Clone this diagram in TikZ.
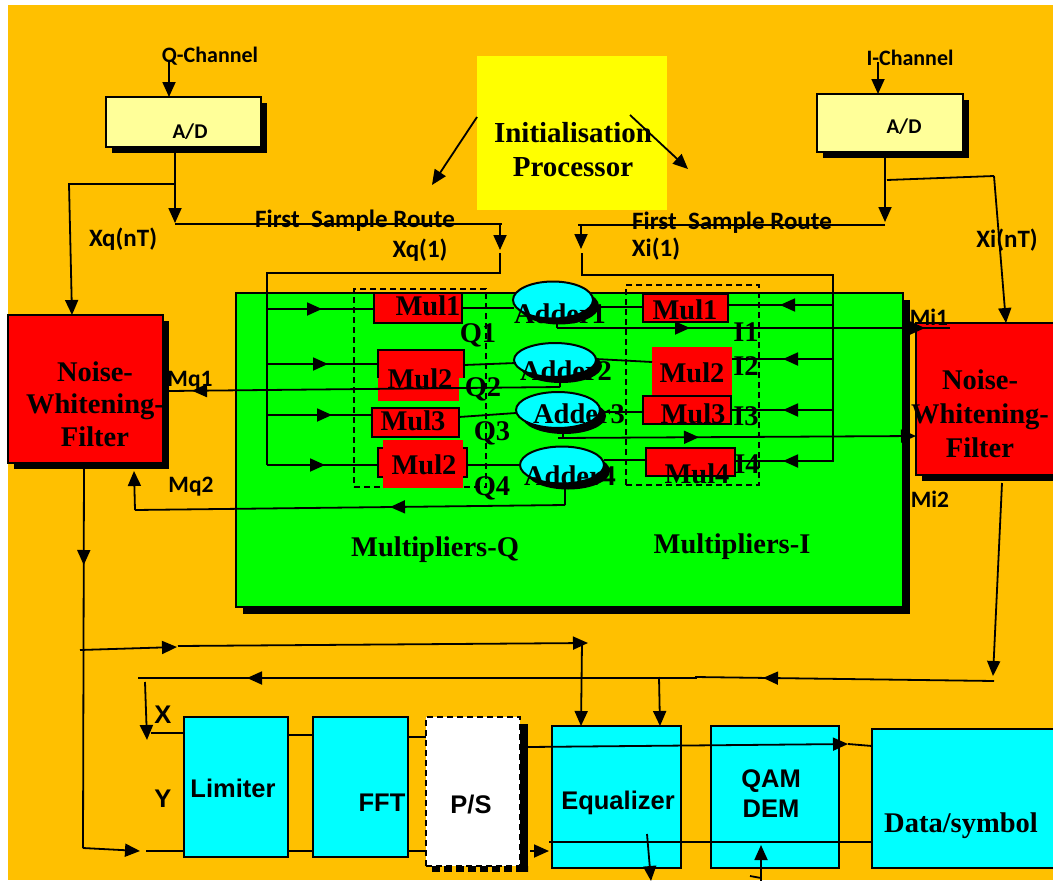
\documentclass[tikz,border=0pt]{standalone}
\usepackage{fontspec}
\setmainfont{Liberation Serif}
\newfontfamily\cbri{Carlito}
\newfontfamily\arl{Liberation Sans}
\usetikzlibrary{arrows.meta,shadows,shapes.geometric,decorations.markings}
\definecolor{bgorange}{HTML}{FFC000}
\definecolor{paleyel}{HTML}{FFFF99}
\definecolor{brightyel}{HTML}{FFFF00}
\definecolor{nwred}{HTML}{FF0000}
\definecolor{bgreen}{HTML}{00FF00}
\definecolor{acyan}{HTML}{00FFFF}
\begin{document}
\begin{tikzpicture}[x=1pt,y=-1pt,
  ln/.style={line width=1.8pt},
  arr/.style={ln,-{Triangle[length=15pt,width=13pt]}},
  midarr/.style={postaction={decorate,decoration={markings,
      mark=at position #1 with {\arrow{Triangle[length=15pt,width=13pt]}}}}},
  blk/.style={draw,line width=1.6pt,inner sep=0pt,outer sep=0pt,anchor=north west},
  plain/.style={inner sep=0pt,outer sep=0pt,anchor=north west},
  shad/.style={drop shadow={shadow xshift=#1,shadow yshift=-#1,opacity=1,fill=black}},
  sr/.style={font=\bfseries\fontsize{28.5}{33}\selectfont,inner sep=0pt,anchor=base},
  sb/.style={font=\cbri\bfseries\fontsize{#1}{#1}\selectfont,inner sep=0pt,anchor=base},
  ar/.style={font=\arl\bfseries\fontsize{25.5}{30}\selectfont,inner sep=0pt,anchor=base}]
\useasboundingbox (0,0) rectangle (1053,881);
\fill[white] (0,0) rectangle (1053,881);
\fill[bgorange] (8,5) rectangle (1053,880);

% ---------- top blocks ----------
\node[plain,fill=brightyel,minimum width=190pt,minimum height=154pt] (init) at (477,56) {};
\node[blk,fill=paleyel,shad=6pt,minimum width=155pt,minimum height=50pt] (qad) at (106,97) {};
\node[blk,fill=paleyel,shad=6pt,minimum width=146pt,minimum height=58pt] (iad) at (817,94) {};

% ---------- noise-whitening filters ----------
\node[blk,fill=nwred,shad=6pt,minimum width=155pt,minimum height=148pt] (nwfq) at (8,315) {};
\node[blk,fill=nwred,shad=6pt,minimum width=145pt,minimum height=152pt] (nwfi) at (916,323) {};

% ---------- multiplier board ----------
\node[blk,fill=bgreen,shad=7pt,minimum width=667pt,minimum height=314pt] (grn) at (236,293) {};
\node[plain,draw,line width=1.5pt,dash pattern=on 6pt off 4pt,minimum width=132pt,minimum height=198pt] (qdash) at (354,289) {};
\node[plain,draw,line width=1.5pt,dash pattern=on 6pt off 4pt,minimum width=133pt,minimum height=200pt] (idash) at (626,285) {};

% Q multipliers
\node[blk,fill=nwred,minimum width=88pt,minimum height=30pt] (mq1) at (374,293) {};
\node[plain,fill=nwred,minimum width=81pt,minimum height=51pt] (mq2) at (378,350) {};
\fill[nwred] (378,350) rectangle (464,378);
\draw[line width=1.5pt] (378,378) -- (378,350) -- (464,350) -- (464,378);
\node[blk,fill=nwred,minimum width=87pt,minimum height=29pt] (mq3) at (372,408) {};
\node[blk,fill=nwred,minimum width=89pt,minimum height=29pt] (mq4) at (378,448) {};
\node[plain,fill=nwred,minimum width=80pt,minimum height=48pt] (mq4b) at (383,440) {};

% I multipliers
\node[blk,fill=nwred,minimum width=85pt,minimum height=28pt] (mi1) at (643,294) {};
\node[plain,fill=nwred,minimum width=80pt,minimum height=48pt] (mi2) at (652,347) {};
\node[blk,fill=nwred,minimum width=88pt,minimum height=28pt] (mi3) at (643,396) {};
\node[blk,fill=nwred,minimum width=89pt,minimum height=28pt] (mi4) at (646,448) {};

% adders
\tikzset{adder/.style={ellipse,draw,line width=2pt,fill=acyan,shad=6pt,inner sep=0pt}}
\node[adder,minimum width=80pt,minimum height=37pt] (add1) at (553,300) {};
\node[adder,minimum width=82pt,minimum height=34pt] (add2) at (555,360) {};
\node[adder,minimum width=84pt,minimum height=36pt] (add3) at (558,410) {};
\node[adder,minimum width=84pt,minimum height=37pt] (add4) at (562,465) {};

% ---------- receiver chain ----------
\node[blk,fill=acyan,minimum width=104pt,minimum height=140pt] (lim) at (184,717) {};
\node[blk,fill=acyan,minimum width=95pt,minimum height=140pt] (fft) at (313,717) {};
\fill[black] (520,724) rectangle (528,872);
\draw[line width=6pt,dash pattern=on 8pt off 4pt] (432,869) -- (528,869);
\node[plain,fill=white,draw,line width=1.6pt,dash pattern=on 6pt off 4pt,minimum width=94pt,minimum height=149pt] (ps) at (426,717) {};
\node[blk,fill=acyan,minimum width=129pt,minimum height=142pt] (eq) at (552,726) {};
\node[blk,fill=acyan,minimum width=128pt,minimum height=142pt] (qam) at (711,726) {};
\node[blk,fill=acyan,minimum width=190pt,minimum height=139pt] (data) at (872,729) {};

% ---------- connectors: inputs ----------
\draw[arr] (169,62) -- (qad.north -| 169,0);
\draw[arr] (878,62) -- (iad.north -| 878,0);
\draw[arr] (init.west |- 0,117) -- (432,185);
\draw[arr] (630,115) -- (688,169);

% Q path
\draw[arr] (qad.south -| 175,0) -- (175,223);
\draw[ln] (175,224) -- (502,224);
\draw[arr] (175,184) -- (69,184) -- (nwfq.north -| 72,0);
\draw[arr] (500,224) -- (500,250);
\draw[ln] (500,253) -- (500,273) -- (267,273) -- (267,465);
\draw[ln,midarr=55pt] (267,309) -- (mq1.west |- 0,309);
\draw[ln,midarr=61pt] (267,364) -- (mq2.west |- 0,364);
\draw[ln,midarr=65pt] (267,415) -- (mq3.west |- 0,415);
\draw[ln,midarr=58pt] (267,465) -- (mq4.west |- 0,465);

% I path
\draw[arr] (iad.south -| 885,0) -- (885,222);
\draw[ln] (885,225) -- (578,225);
\draw[arr] (581,225) -- (581,249);
\draw[ln] (582,253) -- (582,275) -- (833,275) -- (833,462);
\draw[ln] (887,180) -- (994,176);
\draw[arr] (994,176) -- (nwfi.north -| 1006,0);
\draw[ln,midarr=53pt] (833,305) -- (mi1.east |- 0,305);
\draw[ln,midarr=50pt] (833,359) -- (mi2.east |- 0,359);
\draw[ln,midarr=50pt] (833,410) -- (mi3.east |- 0,410);
\draw[ln,midarr=50pt] (833,461) -- (mi4.east |- 0,461);

% multipliers to adders
\draw[ln] (mq1.east |- 0,308) -- (514,308);
\draw[ln] (464,365) -- (516,363);
\draw[ln] (mq3.east |- 0,417) -- (516,413);
\draw[ln] (mq4.east |- 0,465) -- (521,465);
\draw[ln] (593,307) -- (mi1.west |- 0,307);
\draw[ln] (596,359) -- (mi2.west |- 0,362);
\draw[ln] (600,412) -- (mi3.west |- 0,412);
\draw[ln] (604,460) -- (mi4.west |- 0,460);

% adder outputs
\draw[ln] (add1.south -| 557,0) -- (557,328);
\draw[ln,midarr=133pt,midarr=368pt] (557,328) -- (950,328);
\draw[ln] (add3.south -| 563,0) -- (563,438);
\draw[arr,midarr=141pt] (558,438) -- (nwfi.west |- 0,436);
\draw[ln] (add2.south -| 560,0) -- (560,387);
\draw[ln,midarr=368pt] (560,387) -- (169,391);
\draw[ln] (add4.south -| 565,0) -- (565,505);
\draw[ln,midarr=175pt] (565,505) -- (135,510);
\draw[arr] (135,510) -- (134,471);

% ---------- connectors: lower part ----------
\draw[ln,midarr=102pt] (nwfq.south -| 84,0) -- (83,848);
\draw[arr] (80,650) -- (177,647);
\draw[arr] (178,646) -- (588,643);
\draw[arr] (582,643) -- (eq.north -| 581,0);
\draw[arr] (83,848) -- (140,851);
\draw[ln] (146,851) -- (lim.west |- 0,851);
\draw[arr] (1002,483) -- (993,676);
\draw[ln,midarr=231pt] (994,681) -- (695,677);
\draw[ln,midarr=450pt] (697,678) -- (138,678);
\draw[arr] (659,677) -- (eq.north -| 660,0);
\draw[arr] (145,682) -- (147,740);
\draw[ln] (151,733) -- (lim.west |- 0,733);

\draw[ln] (lim.east |- 0,735) -- (fft.west |- 0,735);
\draw[ln] (lim.east |- 0,851) -- (fft.west |- 0,851);
\draw[ln] (fft.east |- 0,737) -- (ps.west |- 0,737);
\draw[ln] (fft.east |- 0,851) -- (ps.west |- 0,851);
\draw[arr] (528,747) -- (848,744);
\draw[ln] (848,744) -- (data.west |- 0,746);
\draw[arr] (530,851) -- (549,851);
\draw[ln] (549,842) -- (data.west |- 0,842);
\draw[arr] (647,834) -- (651,881);
\draw[arr] (761,881) -- (qam.south -| 761,0) -- (761,845);
\draw[ln] (750,876) -- (761,878);

% ---------- labels ----------
\node[font=\bfseries\fontsize{29}{34}\selectfont,align=center,inner sep=0pt] (initt) at (573,150) {Initialisation\\Processor};
\node[font=\bfseries\fontsize{28.5}{32.5}\selectfont,align=center,inner sep=0pt] (nwfqt) at (95,404) {Noise-\\Whitening-\\Filter};
\node[font=\bfseries\fontsize{28.5}{34}\selectfont,align=center,inner sep=0pt] (nwfit) at (980,414) {Noise-\\Whitening-\\Filter};

\node[sb=22] (qch) at (210,62) {Q-Channel};
\node[sb=22] (ich) at (910,65) {I-Channel};
\node[sb=21] (qadt) at (190,138) {A/D};
\node[sb=21] (iadt) at (904,133) {A/D};
\node[sb=25] (fsq) at (355,227) {First\ \ Sample Route};
\node[sb=25] (fsi) at (732,229) {First\ \ Sample Route};
\node[sb=25] (xq1) at (420,257) {Xq(1)};
\node[sb=25] (xqn) at (123,246) {Xq(nT)};
\node[sb=25] (xi1) at (656,256) {Xi(1)};
\node[sb=25] (xin) at (1007,247) {Xi(nT)};
\node[sb=23.5] (mq1l) at (190,386) {Mq1};
\node[sb=23.5] (mq2l) at (191,492) {Mq2};
\node[sb=23.5] (mi1l) at (929,325) {Mi1};
\node[sb=23.5] (mi2l) at (930,507) {Mi2};

\node[sr] (mq1t) at (428,315) {Mul1};
\node[sr] (mq2t) at (420,388) {Mul2};
\node[sr] (mq3t) at (413,430) {Mul3};
\node[sr] (mq4t) at (424,474) {Mul2};
\node[sr] (q1) at (478,342) {Q1};
\node[sr] (q2) at (483,396) {Q2};
\node[sr] (q3) at (492,440) {Q3};
\node[sr] (q4) at (492,495) {Q4};
\node[sr] (mi1t) at (685,319) {Mul1};
\node[sr] (mi2t) at (692,382) {Mul2};
\node[sr] (mi3t) at (693,423) {Mul3};
\node[sr] (mi4t) at (697,483) {Mul4};
\node[sr] (i1) at (746,341) {I1};
\node[sr] (i2) at (746,375) {I2};
\node[sr] (i3) at (746,425) {I3};
\node[sr] (i4) at (747,473) {I4};
\node[sr] (add1t) at (560,323) {Adder1};
\node[sr] (add2t) at (566,380) {Adder2};
\node[sr] (add3t) at (579,423) {Adder3};
\node[sr] (add4t) at (570,485) {Adder4};
\node[sr] (mulq) at (435,556) {Multipliers-Q};
\node[sr] (muli) at (732,553) {Multipliers-I};

\node[ar] (limt) at (233,797) {Limiter};
\node[ar] (fftt) at (382,811) {FFT};
\node[ar] (pst) at (471,813) {P/S};
\node[ar] (xl) at (163,723) {X};
\node[ar] (yl) at (163,807) {Y};
\node[ar] (eqt) at (618,809) {Equalizer};
\node[ar] (qamt) at (771,787) {QAM};
\node[ar] (demt) at (771,817) {DEM};
\node[sr] (datat) at (961,832) {Data/symbol};
\end{tikzpicture}
\end{document}
